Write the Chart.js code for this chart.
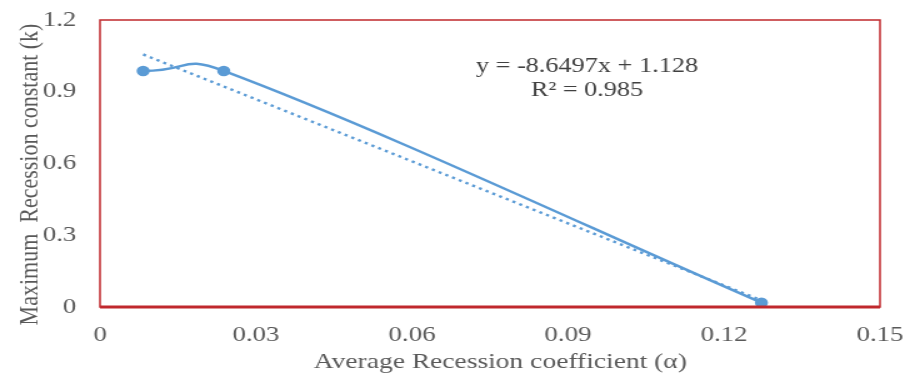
<!DOCTYPE html>
<html><head><meta charset="utf-8">
<script src="https://cdn.jsdelivr.net/npm/chart.js@4/dist/chart.umd.min.js"></script>
<style>
html,body{margin:0;padding:0;background:#fff;overflow:hidden;width:904px;height:376px}
#wrap{width:723px;height:376px;transform:scaleX(1.25);transform-origin:0 0}
canvas{display:block}
</style>
</head><body><div id="wrap"><canvas id="c" width="723" height="376" style="width:723px;height:376px"></canvas></div>
<script>
const seriesX = [0.0083, 0.0238, 0.1272];
const seriesY = [0.987, 0.987, 0.018];
const trendX = [0.0083, 0.1272];
const trendY = [1.056, 0.028];
const xTickLabels = ['0','0.03','0.06','0.09','0.12','0.15'];
const yTickLabels = ['0','0.3','0.6','0.9','1.2'];
const equationLines = ['y = -8.6497x + 1.128', 'R\u00B2 = 0.985'];
const xTitle = '   Average Recession coefficient (\u03B1)';
const yTitle = 'Maximum  Recession constant (k)    ';

const FONT = '"Liberation Serif", "DejaVu Serif", serif';
const GRAY = '#595959';
const RED = '#c0282d';
const BLUE = '#5b9bd5';

const frame = {
  id: 'frame',
  afterDatasetsDraw(chart) {
    const a = chart.chartArea, ctx = chart.ctx;
    ctx.save();
    ctx.strokeStyle = RED; ctx.lineWidth = 1.5;
    ctx.strokeRect(a.left, a.top, a.right - a.left, a.bottom - a.top);
    ctx.lineWidth = 3;
    ctx.beginPath(); ctx.moveTo(a.left, a.bottom); ctx.lineTo(a.right, a.bottom); ctx.stroke();
    ctx.restore();
  },
  afterDraw(chart) {
    const a = chart.chartArea, ctx = chart.ctx;
    ctx.save();
    ctx.fillStyle = '#404040';
    ctx.font = '21px ' + FONT;
    ctx.textAlign = 'center'; ctx.textBaseline = 'middle';
    const cx = a.left + (a.right - a.left) * 0.6244;
    ctx.fillText(equationLines[0], cx, 66);
    ctx.fillText(equationLines[1], cx, 90);
    ctx.restore();
  }
};

const pts = seriesX.map((x, i) => ({x, y: seriesY[i]}));

new Chart(document.getElementById('c'), {
  type: 'scatter',
  data: {
    datasets: [
      {
        data: pts,
        showLine: true, borderColor: BLUE, backgroundColor: BLUE,
        borderWidth: 2.5, tension: 0.6, pointRadius: 4, pointHoverRadius: 4,
        segment: { borderColor: c => c.p0DataIndex === 0 ? BLUE : 'rgba(0,0,0,0)' }
      },
      {
        data: pts,
        showLine: true, borderColor: BLUE, backgroundColor: BLUE,
        borderWidth: 2.5, tension: 0.3, pointRadius: 0,
        segment: { borderColor: c => c.p0DataIndex === 1 ? BLUE : 'rgba(0,0,0,0)' }
      },
      {
        data: trendX.map((x, i) => ({x, y: trendY[i]})),
        showLine: true, borderColor: BLUE, borderWidth: 2.4,
        borderDash: [2.5, 3.5], pointRadius: 0
      }
    ]
  },
  options: {
    responsive: false, maintainAspectRatio: false, animation: false, devicePixelRatio: 1,
    layout: { padding: { top: 20, right: 19, bottom: 1, left: 0 } },
    plugins: { legend: { display: false }, tooltip: { enabled: false } },
    scales: {
      x: {
        type: 'linear', min: 0, max: 0.15,
        afterBuildTicks(s) { s.ticks = xTickLabels.map(v => ({ value: parseFloat(v) })); },
        ticks: { callback: (v, i) => xTickLabels[i], color: GRAY, font: { family: FONT, size: 21.5 }, padding: 15, maxRotation: 0 },
        grid: { display: false, drawTicks: false },
        border: { display: false },
        title: { display: true, text: xTitle, color: GRAY, font: { family: FONT, size: 22 }, padding: { top: 2, bottom: 0 } },
        afterFit(s) { s.height = 68; s.paddingLeft = 0; s.paddingRight = 0; }
      },
      y: {
        type: 'linear', min: 0, max: 1.2,
        afterBuildTicks(s) { s.ticks = yTickLabels.map(v => ({ value: parseFloat(v) })); },
        ticks: { callback: (v, i) => yTickLabels[i], color: GRAY, font: { family: FONT, size: 21.5 }, padding: 19 },
        grid: { display: false, drawTicks: false },
        border: { display: false },
        title: { display: true, text: yTitle, color: GRAY, font: { family: FONT, size: 22 }, padding: { top: 11, bottom: 2 } },
        afterFit(s) { s.width = 80; s.paddingTop = 0; s.paddingBottom = 0; }
      }
    }
  },
  plugins: [frame]
});
</script></body></html>
